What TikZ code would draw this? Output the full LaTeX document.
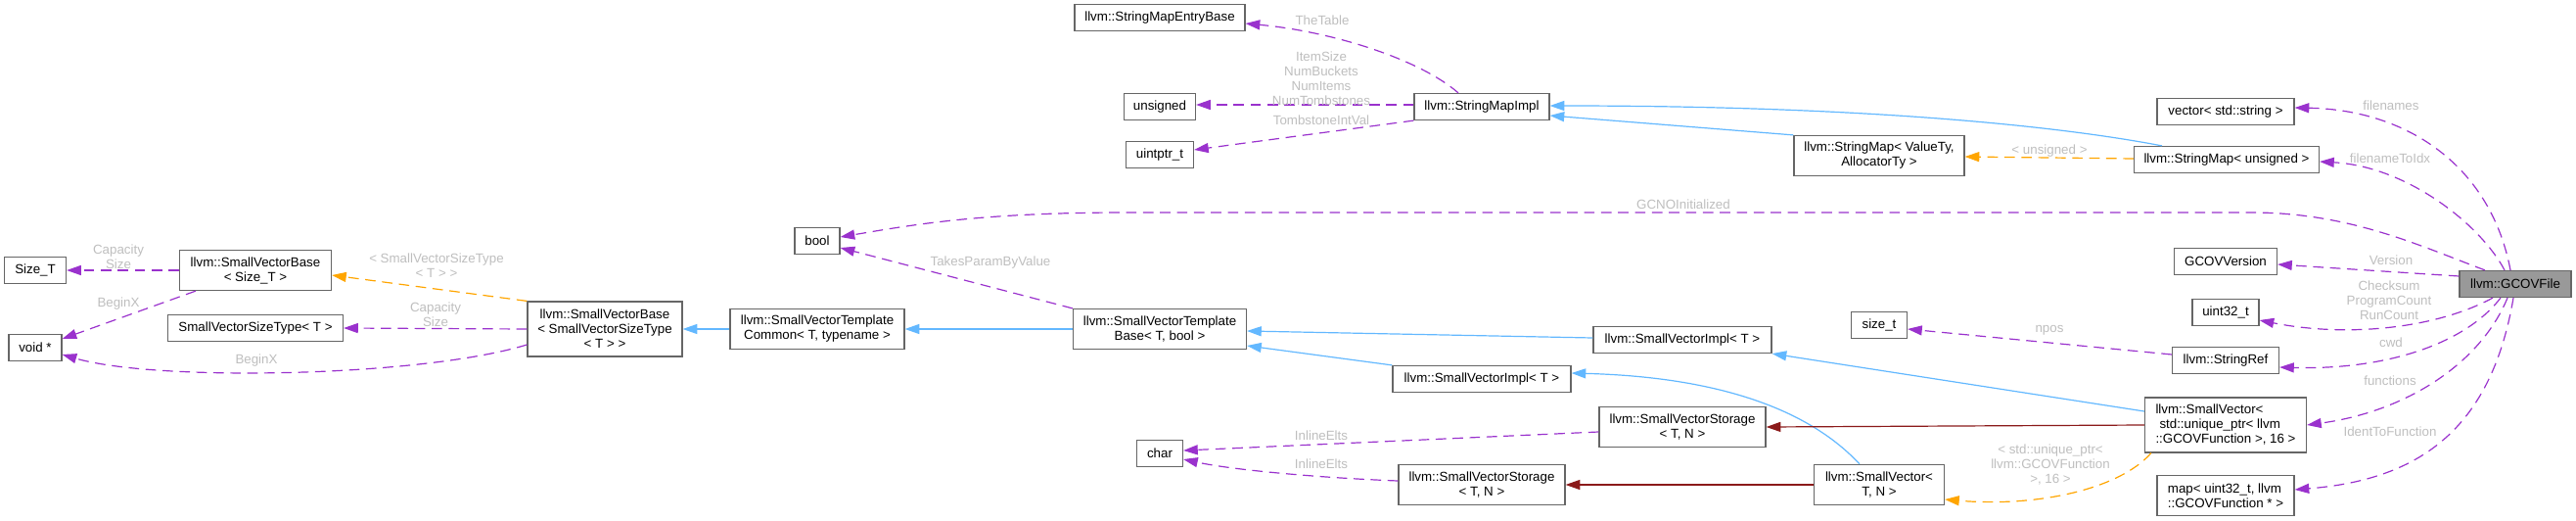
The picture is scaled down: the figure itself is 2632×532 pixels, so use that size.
\documentclass[tikz,border=0pt]{standalone}
\usepackage{fontspec}
\setmainfont{Liberation Sans}
\usepackage{tikz}
\usetikzlibrary{arrows.meta}
\usepackage{xcolor}
\newdimen\px \px=0.75pt
\definecolor{membercol}{HTML}{9A32CD}
\definecolor{tmplcol}{HTML}{FFA500}
\definecolor{pubcol}{HTML}{63B8FF}
\definecolor{protcol}{HTML}{8B1A1A}
\definecolor{boxline}{HTML}{666666}
\definecolor{boxgray}{HTML}{999999}
\definecolor{lblcol}{HTML}{BEBEBE}

\begin{document}
\begin{tikzpicture}[x=0.75pt,y=-0.75pt,font=\fontsize{10}{11.25}\selectfont,
  >={Triangle[length=11pt,width=7.5pt]},line cap=butt,
  cls/.style={draw=boxline,line width=0.9pt,fill=white,inner sep=0pt,align=center,minimum height=27\px},
  cur/.style={cls,fill=boxgray},
  lbl/.style={text=lblcol,inner sep=0pt,align=center},
  member/.style={->,membercol,line width=0.9pt,dash pattern=on 8pt off 5pt},
  tmpl/.style={->,tmplcol,line width=0.9pt,dash pattern=on 8pt off 5pt},
  pubinh/.style={->,pubcol,line width=0.9pt},
  protinh/.style={->,protcol,line width=0.9pt}]
\useasboundingbox (0,0) rectangle (2632,532);
\node[cls,minimum width=63\px] (sizeT) at (36,276) {Size\_T};
\node[cls,minimum width=54\px] (voidp) at (36,355) {void *};
\node[cls,minimum width=155\px,minimum height=41\px] (svbSizeT) at (261,276) {llvm::SmallVectorBase\\< Size\_T >};
\node[cls,minimum width=179\px] (svSizeType) at (261,335) {SmallVectorSizeType< T >};
\node[cls,minimum width=158\px,minimum height=56\px] (svbSVST) at (618,336) {llvm::SmallVectorBase\\< SmallVectorSizeType\\< T > >};
\node[cls,minimum width=178\px,minimum height=41\px] (svtCommon) at (835,336) {llvm::SmallVectorTemplate\\Common< T, typename >};
\node[cls,minimum width=46\px] (boolT) at (835,246) {bool};
\node[cls,minimum width=174\px] (smEntry) at (1185,18) {llvm::StringMapEntryBase};
\node[cls,minimum width=73\px] (unsignedT) at (1185,109) {unsigned};
\node[cls,minimum width=69\px] (uintptrT) at (1185,158) {uintptr\_t};
\node[cls,minimum width=177\px,minimum height=41\px] (svtBase) at (1185,336) {llvm::SmallVectorTemplate\\Base< T, bool >};
\node[cls,minimum width=47\px] (charT) at (1185,463) {char};
\node[cls,minimum width=138\px] (smImpl) at (1514,109) {llvm::StringMapImpl};
\node[cls,minimum width=182\px] (sviLow) at (1514,387) {llvm::SmallVectorImpl< T >};
\node[cls,minimum width=170\px,minimum height=41\px] (svsLow) at (1514,495) {llvm::SmallVectorStorage\\< T, N >};
\node[cls,minimum width=182\px] (sviUp) at (1719,347) {llvm::SmallVectorImpl< T >};
\node[cls,minimum width=170\px,minimum height=41\px] (svsUp) at (1719,436) {llvm::SmallVectorStorage\\< T, N >};
\node[cls,minimum width=174\px,minimum height=41\px] (smGeneric) at (1920,159) {llvm::StringMap< ValueTy,\\AllocatorTy >};
\node[cls,minimum width=57\px] (sizeTT) at (1920,332) {size\_t};
\node[cls,minimum width=133\px,minimum height=41\px] (svGeneric) at (1920,495) {llvm::SmallVector<\\T, N >};
\node[cls,minimum width=140\px] (vecStr) at (2274,114) {vector< std::string >};
\node[cls,minimum width=189\px] (smUnsigned) at (2275,163) {llvm::StringMap< unsigned >};
\node[cls,minimum width=105\px] (gcovVer) at (2274,267) {GCOVVersion};
\node[cls,minimum width=68\px] (uint32T) at (2274,319) {uint32\_t};
\node[cls,minimum width=109\px] (strRef) at (2274,368) {llvm::StringRef};
\node[cls,align=left,minimum width=165\px,minimum height=56\px] (svFuncs) at (2274,434) {llvm::SmallVector<\\\hspace*{3pt}std::unique\_ptr< llvm\\::GCOVFunction >, 16 >};
\node[cls,align=left,minimum width=140\px,minimum height=41\px] (identMap) at (2274,506) {map< uint32\_t, llvm\\::GCOVFunction * >};
\node[cur,minimum width=114\px] (gcov) at (2570,290) {llvm::GCOVFile};
\draw[member] ([xshift=-5\px]gcov.north) .. controls (2545,170) and (2460,112) .. ([yshift=4\px]vecStr.east);
\draw[member] ([xshift=-11\px]gcov.north) .. controls (2535,230) and (2460,170) .. ([yshift=-2\px]smUnsigned.east);
\draw[member] ([xshift=-31\px]gcov.north) .. controls (2470,250) and (2400,217) .. (2300,217) -- (1150,217) .. controls (1000,217) and (930,230) .. ([yshift=4\px]boolT.east);
\draw[member] ([yshift=8\px]gcov.west) -- ([yshift=-3\px]gcovVer.east);
\draw[member] ([xshift=-23\px]gcov.south) .. controls (2490,335) and (2400,345) .. ([yshift=-8\px]uint32T.east);
\draw[member] ([xshift=-15\px]gcov.south) .. controls (2520,350) and (2440,378) .. ([yshift=-7\px]strRef.east);
\draw[member] ([xshift=-8\px]gcov.south) .. controls (2535,370) and (2460,420) .. (svFuncs.east);
\draw[member] ([xshift=-2\px]gcov.south) .. controls (2545,440) and (2470,490) .. ([yshift=6\px]identMap.east);
\draw[member] ([yshift=6\px]strRef.west) -- ([yshift=-4\px]sizeTT.east);
\draw[member] ([xshift=-24\px]smImpl.north) .. controls (1450,60) and (1360,32) .. ([yshift=-6\px]smEntry.east);
\draw[member] ([yshift=2\px]smImpl.west) -- ([yshift=2\px]unsignedT.east);
\draw[member] (smImpl.south west) -- ([yshift=5\px]uintptrT.east);
\draw[member] (svtBase.north west) -- ([yshift=-7\px]boolT.east);
\draw[member] ([yshift=-5\px]svsUp.west) -- ([yshift=3\px]charT.east);
\draw[member] ([yshift=4\px]svsLow.west) .. controls (1350,488) and (1260,480) .. ([yshift=-6\px]charT.east);
\draw[member] (svbSizeT.west) -- (sizeT.east);
\draw[member] ([xshift=-61\px]svbSizeT.south) -- ([yshift=9\px]voidp.east);
\draw[member] (svbSVST.west) -- (svSizeType.east);
\draw[member] ([yshift=-16\px]svbSVST.west) .. controls (430,385) and (160,390) .. ([yshift=-7\px]voidp.east);
\draw[tmpl] ([yshift=1\px]smUnsigned.west) -- ([yshift=-1\px]smGeneric.east);
\draw[tmpl] (svbSVST.north west) -- ([yshift=-5\px]svbSizeT.east);
\draw[tmpl] ([xshift=7\px]svFuncs.south west) .. controls (2165,500) and (2080,518) .. ([yshift=-15\px]svGeneric.east);
\draw[pubinh] (smGeneric.north west) -- ([yshift=-9\px]smImpl.east);
\draw[pubinh] ([xshift=-66\px]smUnsigned.north) .. controls (2100,128) and (1900,108) .. ([yshift=1\px]smImpl.east);
\draw[pubinh] (svtCommon.west) -- (svbSVST.east);
\draw[pubinh] (svtBase.west) -- (svtCommon.east);
\draw[pubinh] ([yshift=2\px]sviUp.west) -- ([yshift=-2\px]svtBase.east);
\draw[pubinh] (sviLow.north west) -- ([yshift=-17\px]svtBase.east);
\draw[pubinh] ([yshift=14\px]svFuncs.west) -- (sviUp.south east);
\draw[pubinh] ([xshift=-20\px]svGeneric.north) .. controls (1850,420) and (1760,385) .. ([yshift=6\px]sviLow.east);
\draw[protinh] (svFuncs.west) -- (svsUp.east);
\draw[protinh] (svGeneric.west) -- (svsLow.east);
\node[lbl] (lFilenames) at (2443,108) {filenames};
\node[lbl] (lFnToIdx) at (2442,162) {filenameToIdx};
\node[lbl] (lGcno) at (1720,209) {GCNOInitialized};
\node[lbl] (lVersion) at (2443,266) {Version};
\node[lbl] (lChecksum) at (2441,307) {Checksum\\ProgramCount\\RunCount};
\node[lbl] (lCwd) at (2443,350) {cwd};
\node[lbl] (lFunctions) at (2442,389) {functions};
\node[lbl] (lIdent) at (2442,441) {IdentToFunction};
\node[lbl] (lNpos) at (2094,337) {npos};
\node[lbl] (lTable) at (1351,21) {TheTable};
\node[lbl] (lItems) at (1350,80) {ItemSize\\NumBuckets\\NumItems\\NumTombstones};
\node[lbl] (lTombstone) at (1350,123) {TombstoneIntVal};
\node[lbl] (lTakes) at (1012,268) {TakesParamByValue};
\node[lbl] (lInlineUp) at (1350,445) {InlineElts};
\node[lbl] (lInlineLow) at (1350,474) {InlineElts};
\node[lbl] (lCapUp) at (121,262) {Capacity\\Size};
\node[lbl] (lBeginUp) at (121,310) {BeginX};
\node[lbl] (lSizeType) at (446,271) {< SmallVectorSizeType\\< T > >};
\node[lbl] (lCapLow) at (445,321) {Capacity\\Size};
\node[lbl] (lBeginLow) at (262,368) {BeginX};
\node[lbl] (lUnsigned) at (2094,154) {< unsigned >};
\node[lbl] (lUniquePtr) at (2095,475) {< std::unique\_ptr<\\llvm::GCOVFunction\\>, 16 >};
\end{tikzpicture}
\end{document}
